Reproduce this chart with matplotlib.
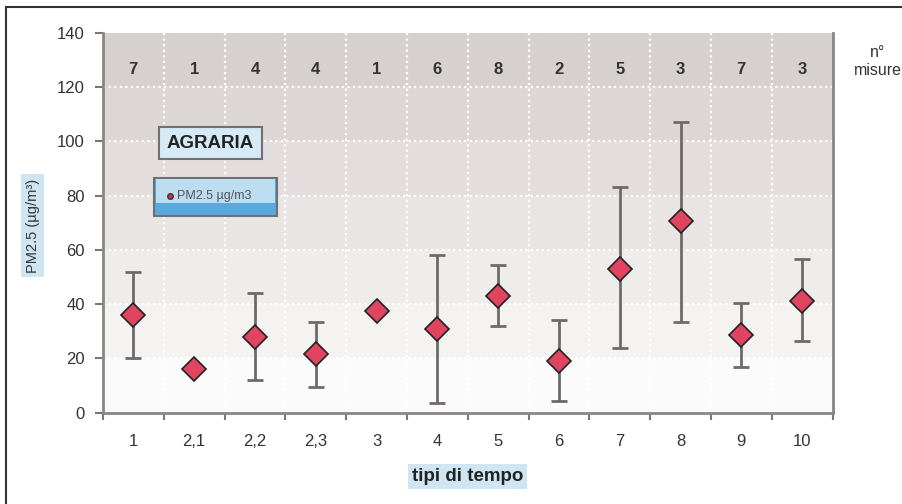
"""
PM2.5 per tipi di tempo - stazione AGRARIA
"""

import matplotlib
matplotlib.use("Agg")
import numpy as np
import matplotlib.pyplot as plt
from matplotlib.patches import Rectangle, FancyBboxPatch

plt.rcParams["font.family"] = ["Liberation Sans", "DejaVu Sans"]

# dati
categorie = ["1", "2,1", "2,2", "2,3", "3", "4", "5", "6", "7", "8", "9", "10"]
media = [36, 16, 28, 21.5, 37.5, 31, 43, 19, 53, 70.5, 28.5, 41]
massimo = [52, 16, 44, 33.5, 37.5, 58, 54.5, 34, 83, 107, 40.5, 56.5]
minimo = [20, 16, 12, 9.5, 37.5, 3.5, 32, 4.5, 24, 33.5, 17, 26.5]
n_misure = [7, 1, 4, 4, 1, 6, 8, 2, 5, 3, 7, 3]

# colori delle fasce di sfondo (dal basso verso l'alto)
fasce = ["#fcfbfb", "#f5f2f2", "#efecec", "#e9e5e4", "#e3dedd", "#dcd6d4", "#d6d0ce"]


def disegna():
    fig = plt.figure(figsize=(9.03, 5.04), dpi=100)
    fig.patch.set_facecolor("white")

    # cornice esterna
    fig.patches.append(Rectangle((0.007, -0.01), 1.0, 0.996, transform=fig.transFigure,
                                 fill=False, edgecolor="#333333", linewidth=1.5))

    ax = fig.add_axes([0.114, 0.181, 0.808, 0.754])
    x = np.arange(len(categorie))

    # fasce di sfondo
    for i, c in enumerate(fasce):
        ax.axhspan(i * 20, (i + 1) * 20, color=c, zorder=0, linewidth=0)

    # griglia bianca punteggiata
    for yv in range(20, 140, 20):
        ax.axhline(yv, color="white", linestyle=(0, (1, 1.5)), linewidth=1.6, zorder=1)
    for xv in np.arange(0.5, len(categorie) - 0.5, 1):
        ax.axvline(xv, color="white", linestyle=(0, (1, 1.5)), linewidth=1.6, zorder=1)

    # barre di errore e punti
    err = [np.array(media) - np.array(minimo), np.array(massimo) - np.array(media)]
    ax.errorbar(x, media, yerr=err, fmt="none", ecolor="#6e6a6a", elinewidth=2,
                capsize=6, capthick=2, zorder=3)
    ax.plot(x, media, linestyle="none", marker="D", markersize=12,
            markerfacecolor="#e0445e", markeredgecolor="#222222", markeredgewidth=1.2, zorder=4)

    # numero di misure in alto
    for xi, n in zip(x, n_misure):
        ax.text(xi, 126.5, str(n), ha="center", va="center", fontsize=12,
                fontweight="bold", color="#333333", zorder=5)
    fig.text(0.972, 0.877, "n°\nmisure", ha="center", va="center", fontsize=11.5,
             color="#333333", linespacing=1.25)

    ax.set_xlim(-0.5, len(categorie) - 0.5)
    ax.set_ylim(0, 140)
    ax.set_yticks(range(0, 141, 20))
    ax.set_xticks(x)
    ax.set_xticklabels(categorie)
    ax.set_xticks(np.arange(-0.5, len(categorie), 1), minor=True)
    ax.tick_params(axis="x", which="major", length=0, pad=15, labelsize=12, labelcolor="#333333")
    ax.tick_params(axis="x", which="minor", length=5, width=1.5, color="#777777", direction="out")
    ax.tick_params(axis="y", length=6, width=1.5, color="#777777", labelsize=12,
                   labelcolor="#333333", pad=7)

    for lato in ["left", "bottom", "right"]:
        ax.spines[lato].set_color("#8a8686")
        ax.spines[lato].set_linewidth(2)
    ax.spines["top"].set_visible(False)

    # etichette assi con sfondo azzurro
    ax.set_xlabel("tipi di tempo", fontsize=13.5, fontweight="bold", color="#222222",
                  labelpad=14, bbox=dict(boxstyle="square,pad=0.2", facecolor="#cfe6f2",
                                         edgecolor="none"))
    fig.text(0.036, 0.552, "PM2.5 (µg/m³)", rotation=90, ha="center", va="center",
             fontsize=10.5, color="#333333",
             bbox=dict(boxstyle="square,pad=0.3", facecolor="#cfe6f2", edgecolor="none"))

    # titolo stazione
    fig.text(0.233, 0.716, "AGRARIA", ha="center", va="center", fontsize=13.5,
             fontweight="bold", color="#222222",
             bbox=dict(boxstyle="square,pad=0.4", facecolor="#d5eaf6",
                       edgecolor="#707070", linewidth=1.5))

    # legenda
    leg = FancyBboxPatch((0.171, 0.572), 0.136, 0.075, boxstyle="square,pad=0",
                         transform=fig.transFigure, facecolor="#5aa8dc",
                         edgecolor="#707070", linewidth=1.5)
    fig.patches.append(leg)
    fig.patches.append(Rectangle((0.173, 0.598), 0.132, 0.046, transform=fig.transFigure,
                                 facecolor="#bcdcf0", edgecolor="none"))
    fig.lines.append(plt.Line2D([0.188], [0.612], transform=fig.transFigure, marker="o",
                                markersize=4, markerfacecolor="#d0304a",
                                markeredgecolor="#333333", linestyle="none"))
    fig.text(0.196, 0.612, "PM2.5 µg/m3", ha="left", va="center", fontsize=9,
             color="#555555")

    fig.savefig("out.png", dpi=100)


if __name__ == "__main__":
    disegna()
